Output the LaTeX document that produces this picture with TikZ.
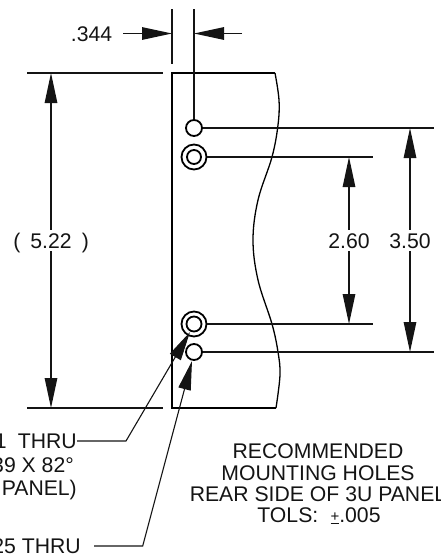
\documentclass[tikz,border=0pt]{standalone}
\usepackage{fontspec}
\setmainfont{Liberation Sans}
\usetikzlibrary{arrows.meta}
\tikzset{
  thinl/.style={line width=1.3pt,draw=black!92},
  thick panel/.style={line width=2.2pt,draw=black,line join=miter},
  headtip/.style={-{Triangle[length=30pt,width=12.5pt,inset=0pt]}},
  twoheads/.style={{Triangle[length=30pt,width=12.5pt,inset=0pt]}-{Triangle[length=30pt,width=12.5pt,inset=0pt]}},
  lab/.style={font=\fontsize{21.2pt}{21pt}\selectfont,inner sep=0pt,text=black!92},
  hole/.style={circle,draw=black,line width=1.8pt,fill=white,inner sep=0pt,minimum size=#1},
}
\begin{document}
\begin{tikzpicture}[x=1pt,y=-1pt]
\useasboundingbox (0,0) rectangle (441,555);
% extension lines
\coordinate (e1a) at (27,73); \coordinate (e1b) at (163,73);
\coordinate (e2a) at (27,408); \coordinate (e2b) at (163,408);
\draw[thinl] (e1a) -- (e1b);
\draw[thinl] (e2a) -- (e2b);
% panel
\draw[thick panel] (275,73) -- (172,73) -- (172,408) -- (276,408);
\draw[line width=1.3pt,black] plot[smooth,tension=0.6] coordinates {(275,73) (279,100) (278,125) (272,157) (258,200) (253,240) (258,280) (272,324) (278,352) (280,375) (276,408)};
% .344 extension
\coordinate (v1a) at (172,9); \coordinate (v1b) at (172,64);
\coordinate (v2a) at (194,9);
\draw[thinl] (v1a) -- (v1b);
% hole-centre extension lines
\coordinate (r1) at (434,128); \coordinate (r2) at (373,157);
\coordinate (r3) at (373,324); \coordinate (r4) at (434,352);
% holes
\node[hole=16pt] (h1) at (194,128) {};
\node[hole=25pt] (h2) at (194,157) {};
\node[hole=14pt] (h2i) at (194,157) {};
\node[hole=25pt] (h3) at (194,324) {};
\node[hole=15pt] (h3i) at (194,324) {};
\node[hole=16pt] (h4) at (194,352) {};
\draw[thinl] (v2a) -- (h1.north);
\draw[thinl] (h1.east) -- (r1);
\draw[thinl] (h2.east) -- (r2);
\draw[thinl] (h3.east) -- (r3);
\draw[thinl] (h4.east) -- (r4);
% .344 dimension
\coordinate (a1) at (123,33.5); \coordinate (a1t) at (172,33.5);
\coordinate (a2) at (242,33.5); \coordinate (a2t) at (194,33.5);
\draw[thinl,headtip] (a1) -- (a1t);
\draw[thinl,headtip] (a2) -- (a2t);
\node[lab,anchor=base] (t344) at (91.5,41) {.344};
% 5.22 dimension
\coordinate (d1a) at (51,73); \coordinate (d1b) at (51,408);
\draw[thinl,twoheads] (d1a) -- (d1b);
\node[lab,anchor=base,fill=white,inner ysep=3pt] (t522) at (51,248) {5.22};
\node[lab,anchor=base] (po) at (17,248) {(};
\node[lab,anchor=base] (pc) at (85.5,248) {)};
% 2.60 dimension
\coordinate (d2a) at (349,157); \coordinate (d2b) at (349,324);
\draw[thinl,twoheads] (d2a) -- (d2b);
\node[lab,anchor=base,fill=white,inner ysep=3pt] (t260) at (349,248) {2.60};
% 3.50 dimension
\coordinate (d3a) at (410,128); \coordinate (d3b) at (410,352);
\draw[thinl,twoheads] (d3a) -- (d3b);
\node[lab,anchor=base,fill=white,inner ysep=3pt] (t350) at (410,248) {3.50};
% notes, left
\node[lab,anchor=base east] (n1) at (77,448) {1\hspace{0.25em} THRU};
\node[lab,anchor=base east] (n2) at (74,472) {39 X 82°};
\node[lab,anchor=base east] (n3) at (77,495) {PANEL)};
\node[lab,anchor=base east] (n4) at (81,553) {25 THRU};
% leaders
\coordinate (l1s) at (77,441); \coordinate (l1b) at (126,441); \coordinate (l1t) at (190,332);
\coordinate (l2s) at (94,546); \coordinate (l2b) at (142.7,546); \coordinate (l2t) at (192,361);
\draw[line width=1.1pt,black!92,-{Triangle[length=29pt,width=12.5pt,inset=0pt]}] (l1s) -- (l1b) -- (l1t);
\draw[line width=1.1pt,black!92,-{Triangle[length=29pt,width=12.5pt,inset=0pt]}] (l2s) -- (l2b) -- (l2t);
% note, right
\node[lab,anchor=base] (m1) at (318,458) {RECOMMENDED};
\node[lab,anchor=base] (m2) at (318,480) {MOUNTING HOLES};
\node[lab,anchor=base] (m3) at (318,501) {REAR SIDE OF 3U PANEL};
\node[lab,anchor=base] (m4) at (319,522) {TOLS:\hspace{0.3em} \underline{\smash{\raisebox{1pt}{\fontsize{15pt}{15pt}\selectfont +}}}.005};
\end{tikzpicture}
\end{document}
